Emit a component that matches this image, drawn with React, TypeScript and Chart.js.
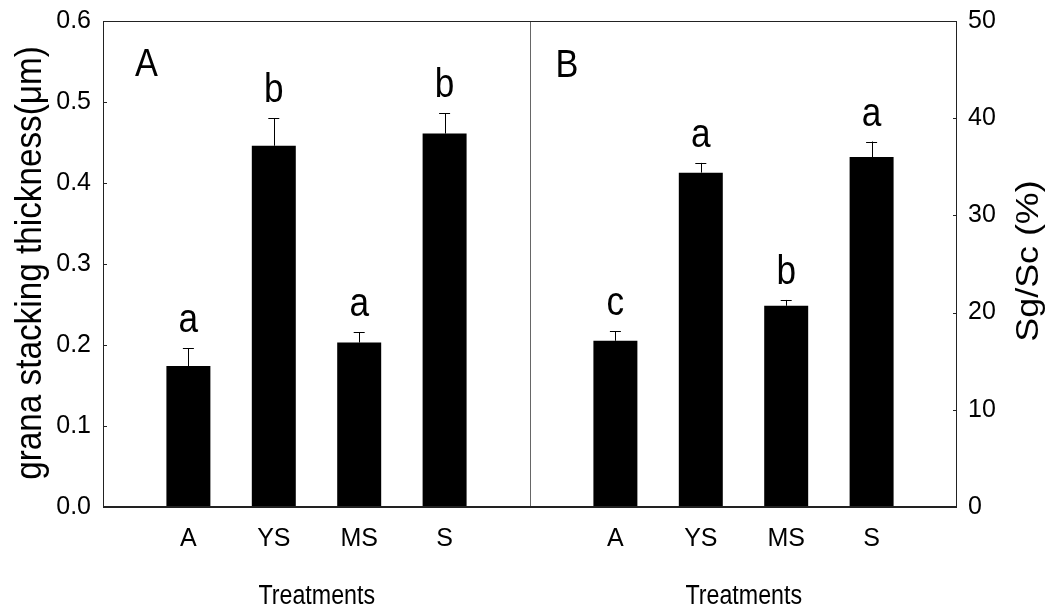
import React, { useEffect, useRef } from 'react';
import { Chart, registerables } from 'chart.js';

Chart.register(...registerables);

// ---- data ----
const treatments = ['A', 'YS', 'MS', 'S'];
const granaThickness = [0.174, 0.446, 0.203, 0.461];
const granaError = [0.022, 0.034, 0.013, 0.025];
const granaLetters = ['a', 'b', 'a', 'b'];
const sgScRatio = [17.1, 34.4, 20.7, 36.0];
const sgScError = [1.0, 1.0, 0.6, 1.6];
const sgScLetters = ['c', 'a', 'b', 'a'];
const leftTicks = [0, 0.1, 0.2, 0.3, 0.4, 0.5, 0.6];
const rightTicks = [0, 10, 20, 30, 40, 50];
const panelLabels = ['A', 'B'];
const xTitle = 'Treatments';
const leftTitle = 'grana stacking thickness(μm)';
const rightTitle = 'Sg/Sc (%)';

// category slots on the shared x axis (0..10, divider at 5)
const leftSlots = treatments.map((_, i) => i + 1);
const rightSlots = treatments.map((_, i) => i + 6);
const dividerSlot = 5;

const FONT = '"Liberation Sans", Arial, sans-serif';
const TICK_FONT = '"Liberation Sans", Arial, sans-serif';

function drawText(ctx: CanvasRenderingContext2D, text: string, x: number, y: number, size: number, sx: number, align: CanvasTextAlign = 'center', rot = 0) {
  ctx.save();
  ctx.translate(x, y);
  if (rot) ctx.rotate(rot);
  ctx.scale(sx, 1);
  ctx.font = `${size}px ${FONT}`;
  ctx.textAlign = align;
  ctx.textBaseline = 'alphabetic';
  ctx.fillStyle = '#000';
  ctx.fillText(text, 0, 0);
  ctx.restore();
}

const decorPlugin = {
  id: 'decor',
  afterDatasetsDraw(chart: any) {
    const ctx: CanvasRenderingContext2D = chart.ctx;
    const letterSets = [granaLetters, sgScLetters];
    const errSets = [granaError, sgScError];
    chart.data.datasets.forEach((ds: any, d: number) => {
      const meta = chart.getDatasetMeta(d);
      const yScale = chart.scales[meta.yAxisID];
      meta.data.forEach((el: any, i: number) => {
        const v = ds.data[i].y;
        const top = yScale.getPixelForValue(v + errSets[d][i]);
        ctx.save();
        ctx.strokeStyle = '#000';
        ctx.lineWidth = 1;
        ctx.beginPath();
        ctx.moveTo(Math.round(el.x) + 0.5, el.y);
        ctx.lineTo(Math.round(el.x) + 0.5, top);
        ctx.moveTo(el.x - 5.5, Math.round(top) + 0.5);
        ctx.lineTo(el.x + 5.5, Math.round(top) + 0.5);
        ctx.stroke();
        ctx.restore();
        drawText(ctx, letterSets[d][i], el.x, top - 16, 40, 0.88);
      });
    });
  },
  afterDraw(chart: any) {
    const ctx: CanvasRenderingContext2D = chart.ctx;
    const ca = chart.chartArea;
    const xs = chart.scales.x;
    const divX = Math.round(xs.getPixelForValue(dividerSlot)) + 0.5;
    ctx.save();
    // divider
    ctx.strokeStyle = '#666';
    ctx.lineWidth = 1;
    ctx.beginPath();
    ctx.moveTo(divX, ca.top);
    ctx.lineTo(divX, ca.bottom);
    ctx.stroke();
    // frame
    ctx.strokeStyle = '#222';
    ctx.lineWidth = 1;
    ctx.beginPath();
    ctx.moveTo(ca.left + 0.5, ca.bottom);
    ctx.lineTo(ca.left + 0.5, ca.top + 0.5);
    ctx.lineTo(ca.right - 0.5, ca.top + 0.5);
    ctx.lineTo(ca.right - 0.5, ca.bottom);
    ctx.stroke();
    ctx.lineWidth = 2;
    ctx.strokeStyle = '#222';
    ctx.beginPath();
    ctx.moveTo(ca.left, ca.bottom);
    ctx.lineTo(ca.right, ca.bottom);
    ctx.stroke();
    // inward ticks
    ctx.lineWidth = 1;
    const yl = chart.scales.y;
    yl.ticks.forEach((t: any) => {
      const y = Math.round(yl.getPixelForValue(t.value)) + 0.5;
      ctx.beginPath();
      ctx.moveTo(ca.left, y);
      ctx.lineTo(ca.left + 4, y);
      ctx.stroke();
    });
    const yr = chart.scales.y2;
    yr.ticks.forEach((t: any) => {
      const y = Math.round(yr.getPixelForValue(t.value)) + 0.5;
      ctx.beginPath();
      ctx.moveTo(ca.right - 4, y);
      ctx.lineTo(ca.right, y);
      ctx.stroke();
    });
    ctx.restore();

    // panel labels
    drawText(ctx, panelLabels[0], ca.left + 32, ca.top + 55, 39, 0.88, 'left');
    drawText(ctx, panelLabels[1], divX + 25, ca.top + 56, 39, 0.88, 'left');
    // x titles
    drawText(ctx, xTitle, (ca.left + divX) / 2, 604, 27, 0.86);
    drawText(ctx, xTitle, (divX + ca.right) / 2, 604, 27, 0.86);
    // y titles
    const cy = (ca.top + ca.bottom) / 2;
    drawText(ctx, leftTitle, 41, cy - 1, 37, 0.9, 'center', -Math.PI / 2);
    drawText(ctx, rightTitle, 1038, cy - 3, 32, 1.12, 'center', -Math.PI / 2);
  },
};

export default function App() {
  const ref = useRef<HTMLCanvasElement>(null);
  useEffect(() => {
    if (!ref.current) return;
    const chart = new Chart(ref.current, {
      type: 'bar',
      data: {
        datasets: [
          {
            label: 'grana stacking thickness',
            data: granaThickness.map((v, i) => ({ x: leftSlots[i], y: v })),
            backgroundColor: '#000',
            borderWidth: 0,
            yAxisID: 'y',
          },
          {
            label: 'Sg/Sc',
            data: sgScRatio.map((v, i) => ({ x: rightSlots[i], y: v })),
            backgroundColor: '#000',
            borderWidth: 0,
            yAxisID: 'y2',
          },
        ],
      } as any,
      options: {
        animation: false,
        responsive: false,
        devicePixelRatio: 1,
        layout: { padding: { top: 21, left: 0, right: 0, bottom: 0 } },
        datasets: { bar: { grouped: false, categoryPercentage: 1, barPercentage: 0.515 } } as any,
        plugins: { legend: { display: false }, tooltip: { enabled: false } },
        scales: {
          x: {
            type: 'linear',
            offset: false,
            min: 0,
            max: 10,
            grid: { display: false, drawTicks: false },
            border: { display: false },
            afterBuildTicks: (s: any) => {
              s.ticks = [...leftSlots, ...rightSlots].map((v) => ({ value: v }));
            },
            afterFit: (s: any) => {
              s.height = 103;
              s.paddingLeft = 0;
              s.paddingRight = 0;
            },
            ticks: {
              autoSkip: false,
              maxRotation: 0,
              padding: 17,
              color: '#000',
              font: { family: TICK_FONT, size: 25 },
              callback: (v: any) => {
                let i = leftSlots.indexOf(v);
                if (i >= 0) return treatments[i];
                i = rightSlots.indexOf(v);
                return i >= 0 ? treatments[i] : '';
              },
            },
          },
          y: {
            type: 'linear',
            position: 'left',
            min: 0,
            max: 0.6,
            grid: { display: false, drawTicks: false },
            border: { display: false },
            afterBuildTicks: (s: any) => {
              s.ticks = leftTicks.map((v) => ({ value: v }));
            },
            afterFit: (s: any) => {
              s.width = 103;
              s.paddingTop = 0;
              s.paddingBottom = 0;
            },
            ticks: {
              padding: 12,
              color: '#000',
              font: { family: TICK_FONT, size: 25 },
              callback: (v: any) => Number(v).toFixed(1),
            },
          },
          y2: {
            type: 'linear',
            position: 'right',
            min: 0,
            max: 50,
            grid: { display: false, drawTicks: false },
            border: { display: false },
            afterBuildTicks: (s: any) => {
              s.ticks = rightTicks.map((v) => ({ value: v }));
            },
            afterFit: (s: any) => {
              s.width = 100;
              s.paddingTop = 0;
              s.paddingBottom = 0;
            },
            ticks: {
              padding: 11,
              color: '#000',
              font: { family: TICK_FONT, size: 25 },
              callback: (v: any) => String(v),
            },
          },
        },
      } as any,
      plugins: [decorPlugin],
    });
    return () => chart.destroy();
  }, []);
  return (
    <div style={{ position: 'absolute', left: 0, top: 0, width: 1057, height: 610, background: '#fff' }}>
      <canvas ref={ref} width={1057} height={610} style={{ display: 'block', width: 1057, height: 610 }} />
    </div>
  );
}
